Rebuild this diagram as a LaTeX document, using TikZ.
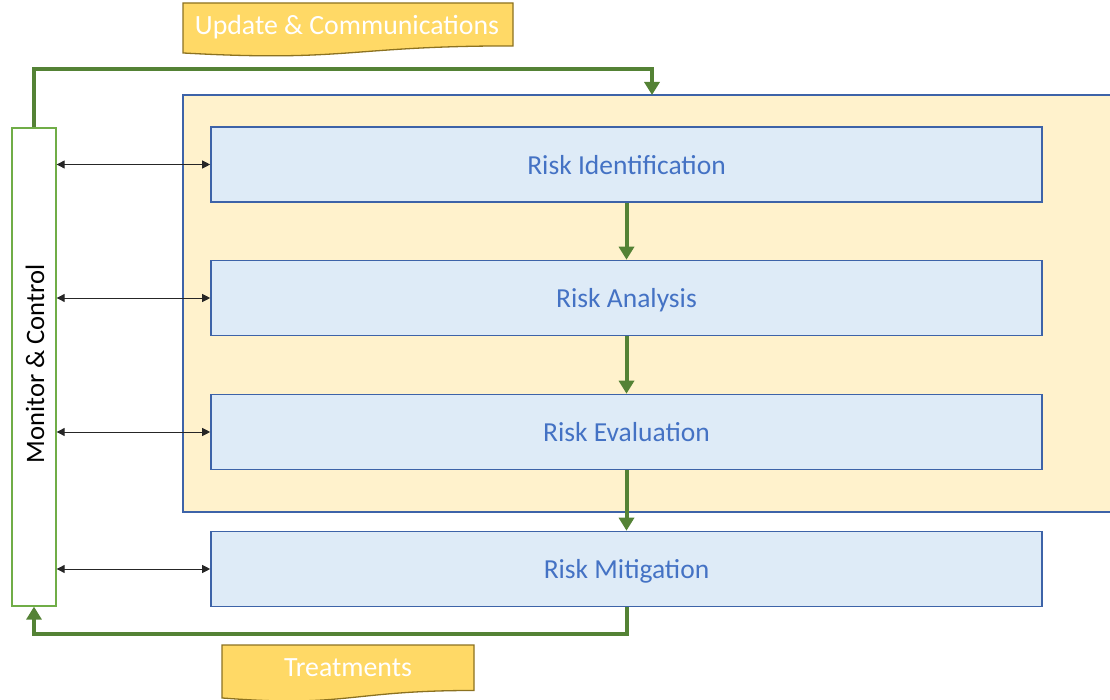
\documentclass[tikz,border=0pt]{standalone}
\usepackage{fontspec}
\setmainfont{Carlito}
\usetikzlibrary{arrows.meta}
\definecolor{flowgreen}{HTML}{548235}
\definecolor{ctrlgreen}{HTML}{70AD47}
\definecolor{paneyellow}{HTML}{FFF2CC}
\definecolor{paneblue}{HTML}{3D63A8}
\definecolor{stepfill}{HTML}{DEEBF7}
\definecolor{steptext}{HTML}{4472C4}
\definecolor{bannerfill}{HTML}{FFD966}
\definecolor{bannerline}{HTML}{8C7220}
\tikzset{
  stepbox/.style={draw=paneblue, line width=1.6pt, fill=stepfill,
    minimum width=831pt, minimum height=75pt, inner sep=0pt, text depth=0pt,
    text=steptext, font=\fontsize{27.5}{32}\selectfont},
  flow/.style={draw=flowgreen, line width=4pt,
    -{Triangle[length=13pt,width=15pt]}},
  link/.style={draw=black!85, line width=0.9pt,
    {Triangle[length=8pt,width=8pt]}-{Triangle[length=8pt,width=8pt]}},
  bannertext/.style={text=white, font=\fontsize{27.8}{32}\selectfont,
    inner sep=0pt, text depth=0pt}
}
% banner with a wavy lower edge: \wavybanner{x0}{x1}{ytop}{h}
\newcommand{\wavybanner}[4]{%
  \filldraw[fill=bannerfill, draw=bannerline, line width=1.3pt]
    (#1,#3) -- (#2,#3) -- (#2,{#3+0.802*#4})
    .. controls ({(#1+#2)/2},{#3+0.802*#4}) and ({(#1+#2)/2},{#3+1.108*#4}) ..
    (#1,{#3+0.934*#4}) -- cycle;}
\begin{document}
\begin{tikzpicture}[x=1pt,y=-1pt]
\useasboundingbox (0,0) rectangle (1110,700);

% yellow pane behind the first three steps
\fill[paneyellow] (183,95) rectangle (1112,512);
\draw[paneblue, line width=1.2pt]
  (1112,95) -- (183,95) -- (183,512) -- (1112,512);

% process steps
\node[stepbox] (ident) at (626.5,164.5) {Risk Identification};
\node[stepbox] (anal)  at (626.5,298)   {Risk Analysis};
\node[stepbox] (eval)  at (626.5,432)   {Risk Evaluation};
\node[stepbox] (mitig) at (626.5,569)   {Risk Mitigation};

% monitoring column
\node[draw=ctrlgreen, line width=1.3pt, fill=white, minimum width=44pt,
  minimum height=478pt, inner sep=0pt] (mon) at (34,367) {};
\node[rotate=90, font=\fontsize{26.6}{30}\selectfont, inner sep=0pt] (montext)
  at (35,364) {Monitor \& Control};

% downward flow between steps
\draw[flow] (ident.south) -- (anal.north);
\draw[flow] (anal.south) -- (eval.north);
\draw[flow] (eval.south) -- (mitig.north);

% feedback loops
\coordinate (tl) at (34,69);
\coordinate (tr) at (652,69);
\coordinate (paneTop) at (652,95);
\draw[flow] (mon.north) -- (tl) -- (tr) -- (paneTop);
\coordinate (bl) at (34,634);
\coordinate (br) at (626.5,634);
\draw[flow] (mitig.south) -- (br) -- (bl) -- (mon.south);

% two-way links to each step
\draw[link] (mon.east |- ident.west) -- (ident.west);
\draw[link] (mon.east |- anal.west) -- (anal.west);
\draw[link] (mon.east |- eval.west) -- (eval.west);
\draw[link] (mon.east |- mitig.west) -- (mitig.west);

% banners
\wavybanner{183}{513}{3}{53.5}
\node[bannertext] (upd) at (347,25) {Update \& Communications};
\wavybanner{222}{474}{645}{56.7}
\node[bannertext] (treat) at (348,668) {Treatments};
\end{tikzpicture}
\end{document}
